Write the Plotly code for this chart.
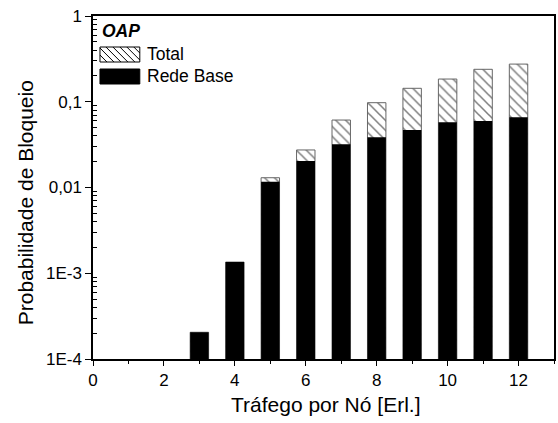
import plotly.graph_objects as go

# values (log scale)
trafego = [3, 4, 5, 6, 7, 8, 9, 10, 11, 12]
total = [2.05e-4, 1.35e-3, 0.0130, 0.0274, 0.0612, 0.0975, 0.1435, 0.184, 0.239, 0.275]
rede_base = [2.05e-4, 1.35e-3, 0.0117, 0.0204, 0.0319, 0.0385, 0.0469, 0.0576, 0.0597, 0.0659]

y_ticks = [1e-4, 1e-3, 0.01, 0.1, 1]
y_labels = ["1E-4", "1E-3", "0,01", "0,1", "1"]
y_minor = [m * d for d in y_ticks[:-1] for m in range(2, 10)]

W, H = 558, 423
L, R, T, B = 93, 556, 16, 359  # plot area in pixels

font = "Liberation Sans, Arial, sans-serif"


def px(x):
    return (x - L) / (R - L)


def py(y):
    return 1 - (y - T) / (B - T)


fig = go.Figure()

fig.add_trace(go.Bar(
    x=trafego, y=total, name="Total", width=0.52,
    marker=dict(color="white", line=dict(color="#666", width=1),
                pattern=dict(shape="\\", fgcolor="black", bgcolor="white", size=7, solidity=0.22)),
    showlegend=False,
))
fig.add_trace(go.Bar(
    x=trafego, y=rede_base, name="Rede Base", width=0.52,
    marker=dict(color="black", line=dict(color="black", width=0)),
    showlegend=False,
))

# hand-drawn legend
shapes = []
bx0, bx1, by0, by1 = 100, 140, 47, 62
shapes.append(dict(type="rect", xref="paper", yref="paper",
                   x0=px(bx0), x1=px(bx1), y0=py(by1), y1=py(by0),
                   line=dict(color="black", width=1), fillcolor="white"))
h = by1 - by0
for s in range(bx0 - h, bx1, 7):
    # line from (s, by0) to (s+h, by1), clipped to box
    x0, y0, x1, y1 = s, by0, s + h, by1
    if x0 < bx0:
        y0 = by0 + (bx0 - x0)
        x0 = bx0
    if x1 > bx1:
        y1 = by1 - (x1 - bx1)
        x1 = bx1
    if x1 <= x0:
        continue
    shapes.append(dict(type="line", xref="paper", yref="paper",
                       x0=px(x0), y0=py(y0), x1=px(x1), y1=py(y1),
                       line=dict(color="black", width=1)))
shapes.append(dict(type="rect", xref="paper", yref="paper",
                   x0=px(100), x1=px(140), y0=py(84), y1=py(69),
                   line=dict(color="black", width=1), fillcolor="black"))

lf = dict(size=17.5, color="black", family=font)
annotations = [
    dict(text="<b><i>OAP</i></b>", x=px(100), y=py(31), xref="paper", yref="paper",
         xanchor="left", yanchor="middle", showarrow=False, font=lf),
    dict(text="Total", x=px(145), y=py(54), xref="paper", yref="paper",
         xanchor="left", yanchor="middle", showarrow=False, font=lf),
    dict(text="Rede Base", x=px(145), y=py(76), xref="paper", yref="paper",
         xanchor="left", yanchor="middle", showarrow=False, font=lf),
    # axis titles
    dict(text="Tráfego por Nó [Erl.]", x=px(327), y=py(404), xref="paper", yref="paper",
         xanchor="center", yanchor="middle", showarrow=False, font=dict(size=21, color="black", family=font)),
    dict(text="Probabilidade de Bloqueio", x=px(25), y=py(203), xref="paper", yref="paper",
         xanchor="center", yanchor="middle", textangle=-90, showarrow=False,
         font=dict(size=21, color="black", family=font)),
]

fig.update_layout(
    width=W, height=H,
    margin=dict(l=L, r=W - R, t=T, b=H - B),
    paper_bgcolor="white", plot_bgcolor="white",
    barmode="overlay",
    font=dict(family=font, size=17, color="black"),
    shapes=shapes, annotations=annotations,
)

fig.update_xaxes(
    range=[0, 13], tickmode="linear", tick0=0, dtick=2,
    ticks="outside", ticklen=5, tickwidth=1, tickcolor="black",
    minor=dict(ticks="outside", ticklen=3, dtick=1, tickcolor="black"),
    showline=True, linecolor="black", linewidth=1.5, mirror=True,
    showgrid=False, zeroline=False,
)
fig.update_yaxes(
    type="log", range=[-4, 0], tickvals=y_ticks, ticktext=y_labels,
    ticks="outside", ticklen=6, tickwidth=1, tickcolor="black",
    minor=dict(ticks="inside", ticklen=4, tickmode="array", tickvals=y_minor, tickcolor="black", showgrid=False),
    showline=True, linecolor="black", linewidth=1.5, mirror=True,
    showgrid=False, zeroline=False,
)

fig.write_html("out.html", config={"displayModeBar": False},
               post_script="document.body.style.margin='0';document.body.style.overflow='hidden';")
